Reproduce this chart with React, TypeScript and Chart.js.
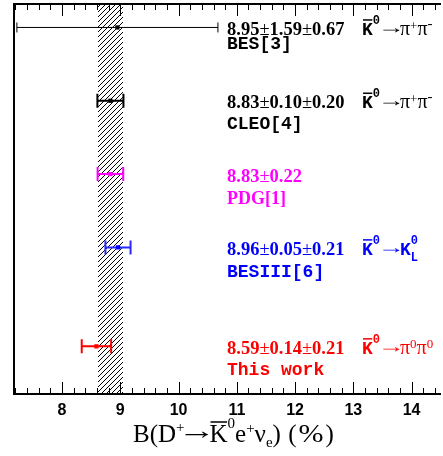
import React, { useEffect, useRef } from 'react';
import { Chart, registerables } from 'chart.js';

Chart.register(...registerables);

// ---- data ----
const experiments = ['BES[3]', 'CLEO[4]', 'PDG[1]', 'BESIII[6]', 'This work'];
const centralValues = [8.95, 8.83, 8.83, 8.96, 8.59];
const statErrors = [1.59, 0.1, 0.22, 0.05, 0.14];
const systErrors: (number | null)[] = [0.67, 0.2, null, 0.21, 0.21];
const rowPositions = [5, 4, 3, 2, 0.65];
const decayModes = ['pipi', 'pipi', '', 'KL', 'pi0pi0'];
const rowColors = ['#000000', '#000000', '#ff00ff', '#0000ff', '#ff0000'];
const barColors = ['#000000', '#000000', '#ff00ff', '#2a2aff', '#ff0000'];
const xTickValues = [8, 9, 10, 11, 12, 13, 14];
const pdgIndex = 2;

const X_MIN = 7.175;
const X_MAX = 14.47;
const Y_MIN = 0;
const Y_MAX = 5.32;

// ---- layout/style ----
const W = 443;
const H = 456;
const nameOffsets = [21.5, 28, 30, 30, 29];
const barWidths = [1, 2, 2, 2, 2];
const capHalf = [5, 7, 7, 7, 7];
const VALUE_X = 227;
const MODE_X = 362;

const SERIF = '"Liberation Serif", "Times New Roman", serif';
const MONO = '"Liberation Mono", "Courier New", monospace';

type Seg = {
  t: string;
  f: string;
  dy?: number;
  over?: boolean;
  noAdv?: boolean;
  sx?: number;
  gap?: number;
  inkW?: number;
  padL?: number;
  padR?: number;
};

function drawRich(ctx: CanvasRenderingContext2D, x: number, y: number, segs: Seg[], color: string) {
  let cx = x;
  ctx.save();
  ctx.fillStyle = color;
  ctx.strokeStyle = color;
  ctx.textBaseline = 'alphabetic';
  ctx.textAlign = 'left';
  for (const s of segs) {
    ctx.font = s.f;
    const m = ctx.measureText(s.t);
    const yy = y + (s.dy || 0);
    if (s.inkW) {
      const ink = m.actualBoundingBoxLeft + m.actualBoundingBoxRight;
      const sx = ink > 0 ? s.inkW / ink : 1;
      const pl = s.padL || 0;
      ctx.save();
      ctx.translate(cx + pl + m.actualBoundingBoxLeft * sx, yy);
      ctx.scale(sx, 1);
      ctx.fillText(s.t, 0, 0);
      ctx.restore();
      cx += pl + s.inkW + (s.padR || 0);
      continue;
    }
    const sx = s.sx || 1;
    if (sx !== 1) {
      ctx.save();
      ctx.translate(cx, yy);
      ctx.scale(sx, 1);
      ctx.fillText(s.t, 0, 0);
      ctx.restore();
    } else {
      ctx.fillText(s.t, cx, yy);
    }
    if (s.over) {
      const oy = yy - m.actualBoundingBoxAscent - 3;
      ctx.lineWidth = 1.5;
      ctx.beginPath();
      ctx.moveTo(cx + 1, oy);
      ctx.lineTo(cx + m.width - 0.5, oy);
      ctx.stroke();
    }
    if (!s.noAdv) cx += m.width * sx + (s.gap || 0);
  }
  ctx.restore();
}

const MB = `bold 18px ${MONO}`;
const MSUP = `bold 12px ${MONO}`;
const SR = `18px ${SERIF}`;
const PI = `20px ${SERIF}`;
const SSUP = `13px ${SERIF}`;

function modeSegs(mode: string): Seg[] {
  const head: Seg[] = [
    { t: 'K', f: MB, over: true },
    { t: '0', f: MSUP, dy: -11 },
    { t: '→', f: SR, dy: -2, inkW: 18, padL: 2, padR: 0 },
  ];
  if (mode === 'pipi')
    return [
      ...head,
      { t: 'π', f: PI },
      { t: '+', f: SSUP, dy: -5 },
      { t: 'π', f: PI },
      { t: '-', f: `15px ${SERIF}`, dy: -7 },
    ];
  if (mode === 'pi0pi0')
    return [
      ...head,
      { t: 'π', f: PI },
      { t: '0', f: SSUP, dy: -6 },
      { t: 'π', f: PI },
      { t: '0', f: SSUP, dy: -6 },
    ];
  if (mode === 'KL')
    return [
      ...head,
      { t: 'K', f: MB },
      { t: '0', f: MSUP, dy: -11, noAdv: true },
      { t: 'L', f: MSUP, dy: 6 },
    ];
  return [];
}

function fmt(v: number) {
  return v.toFixed(2);
}

function makeHatch(): CanvasPattern | string {
  const c = document.createElement('canvas');
  const s = 5;
  c.width = s;
  c.height = s;
  const g = c.getContext('2d');
  if (!g) return '#888';
  g.fillStyle = '#000';
  for (let i = 0; i < s; i++) g.fillRect(i, s - 1 - i, 1, 1);
  const p = g.createPattern(c, 'repeat');
  return p || '#888';
}

const overlayPlugin = {
  id: 'overlay',
  beforeDatasetsDraw(chart: any) {
    const { ctx, chartArea: a, scales } = chart;
    const x = scales.x;
    const y = scales.y;
    // PDG hatched band
    const c = centralValues[pdgIndex];
    const e = statErrors[pdgIndex];
    const bx0 = Math.round(x.getPixelForValue(c - e));
    const bx1 = Math.round(x.getPixelForValue(c + e));
    ctx.save();
    ctx.fillStyle = makeHatch();
    ctx.fillRect(bx0, a.top, bx1 - bx0, a.bottom - a.top);
    ctx.restore();

    // error bars
    centralValues.forEach((v, i) => {
      const sys = systErrors[i];
      const tot = sys == null ? statErrors[i] : Math.sqrt(statErrors[i] ** 2 + sys ** 2);
      const px0 = x.getPixelForValue(v - tot);
      const px1 = x.getPixelForValue(v + tot);
      const py = y.getPixelForValue(rowPositions[i]);
      ctx.save();
      ctx.strokeStyle = barColors[i];
      ctx.lineWidth = barWidths[i];
      ctx.beginPath();
      ctx.moveTo(px0, py);
      ctx.lineTo(px1, py);
      ctx.moveTo(px0, py - capHalf[i]);
      ctx.lineTo(px0, py + capHalf[i]);
      ctx.moveTo(px1, py - capHalf[i]);
      ctx.lineTo(px1, py + capHalf[i]);
      ctx.stroke();
      ctx.restore();
    });
  },
  afterDraw(chart: any) {
    const { ctx, chartArea: a, scales } = chart;
    const x = scales.x;
    const y = scales.y;

    // frame
    ctx.save();
    ctx.strokeStyle = '#000';
    ctx.lineWidth = 2;
    ctx.beginPath();
    ctx.moveTo(a.left, a.top);
    ctx.lineTo(a.left, a.bottom);
    ctx.moveTo(a.left - 1, a.bottom);
    ctx.lineTo(a.right + 2, a.bottom);
    ctx.moveTo(a.left - 1, a.top);
    ctx.lineTo(a.right + 2, a.top);
    ctx.stroke();

    // ticks (inside)
    ctx.lineWidth = 1;
    ctx.beginPath();
    for (let k = Math.ceil(X_MIN * 5); k <= Math.floor(X_MAX * 5); k++) {
      const v = k / 5;
      const px = Math.round(x.getPixelForValue(v)) + 0.5;
      const major = k % 5 === 0;
      const len = major ? 12 : 6;
      ctx.moveTo(px, a.bottom);
      ctx.lineTo(px, a.bottom - len);
      ctx.moveTo(px, a.top);
      ctx.lineTo(px, a.top + len);
    }
    ctx.stroke();
    ctx.restore();

    // labels
    centralValues.forEach((v, i) => {
      const py = y.getPixelForValue(rowPositions[i]);
      const sys = systErrors[i];
      const valueText = sys == null ? `${fmt(v)}±${fmt(statErrors[i])}` : `${fmt(v)}±${fmt(statErrors[i])}±${fmt(sys)}`;
      const col = rowColors[i];
      const parts = valueText.split('±');
      const segs: Seg[] = [];
      parts.forEach((p, j) => {
        if (j > 0) segs.push({ t: '±', f: `18.5px ${SERIF}` });
        segs.push({ t: p, f: `bold 18.5px ${SERIF}` });
      });
      drawRich(ctx, VALUE_X, py + 7.5, segs, col);
      const nameFont = experiments[i].startsWith('PDG') ? `bold 18px ${SERIF}` : `bold 18px ${MONO}`;
      drawRich(ctx, VALUE_X, py + nameOffsets[i], [{ t: experiments[i], f: nameFont }], col);
      if (decayModes[i]) drawRich(ctx, MODE_X, py + 7.5, modeSegs(decayModes[i]), col);
    });

    // axis title
    const TF = `25px ${SERIF}`;
    const TS = `15px ${SERIF}`;
    drawRich(
      ctx,
      133,
      442,
      [
        { t: 'B(D', f: TF },
        { t: '+', f: TS, dy: -10 },
        { t: '→', f: TF, dy: -3, inkW: 23, padL: 1, padR: 1 },
        { t: 'K', f: TF, over: true },
        { t: '0', f: TS, dy: -14 },
        { t: 'e', f: TF },
        { t: '+', f: TS, dy: -9 },
        { t: 'ν', f: TF },
        { t: 'e', f: TS, dy: 5 },
        { t: ') ', f: TF, gap: 1 },
        { t: '(', f: TF, gap: 2 },
        { t: '%', f: TF, sx: 1.2, gap: 2 },
        { t: ')', f: TF },
      ],
      '#000'
    );
  },
};

export default function App() {
  const ref = useRef<HTMLCanvasElement | null>(null);
  useEffect(() => {
    if (!ref.current) return;
    const chart = new Chart(ref.current, {
      type: 'scatter',
      data: {
        datasets: [
          {
            data: centralValues.map((v, i) => ({ x: v, y: rowPositions[i] })),
            pointStyle: 'rect',
            pointRadius: 3,
            pointBackgroundColor: rowColors,
            pointBorderColor: rowColors,
            pointBorderWidth: 0,
            showLine: false,
          },
        ],
      },
      options: {
        animation: false,
        responsive: false,
        maintainAspectRatio: false,
        layout: { padding: { left: 14, top: 3, right: 0, bottom: 0 } },
        plugins: { legend: { display: false }, tooltip: { enabled: false } },
        scales: {
          x: {
            type: 'linear',
            min: X_MIN,
            max: X_MAX,
            afterBuildTicks: (s: any) => {
              s.ticks = xTickValues.map((v) => ({ value: v }));
            },
            afterFit: (s: any) => {
              s.height = 62;
            },
            grid: { display: false, drawTicks: false },
            border: { display: false },
            ticks: {
              color: '#000',
              padding: 7,
              maxRotation: 0,
              autoSkip: false,
              font: { family: '"Liberation Sans", Arial, sans-serif', size: 16, weight: 'bold' },
            },
          },
          y: { display: false, min: Y_MIN, max: Y_MAX },
        },
      },
      plugins: [overlayPlugin],
    } as any);
    return () => chart.destroy();
  }, []);
  return (
    <div style={{ position: 'absolute', left: 0, top: 0, width: W, height: H, background: '#fff' }}>
      <canvas ref={ref} width={W} height={H} style={{ width: W, height: H, display: 'block' }} />
    </div>
  );
}
